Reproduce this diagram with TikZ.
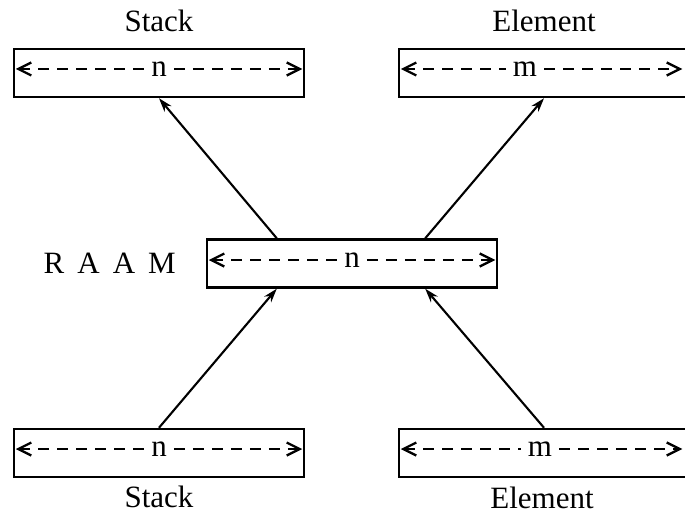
\documentclass[tikz,border=0pt]{standalone}
\usepackage{fontspec}
\setmainfont{Liberation Serif}
\usetikzlibrary{arrows.meta}
\begin{document}
\begin{tikzpicture}[x=1pt,y=-1pt,
  unit/.style={draw,line width=2.5pt,rectangle,minimum width=290pt,minimum height=48pt,inner sep=0pt},
  conn/.style={line width=2.1pt,-{Stealth[length=14pt,width=9pt]}},
  span/.style={line width=2.3pt,dash pattern=on 11pt off 8pt},
  spanl/.style={span,{Straight Barb[length=13pt,width=13pt]}-},
  spanr/.style={span,-{Straight Barb[length=13pt,width=13pt]}},
  dim/.style={font=\fontsize{31}{34}\selectfont,inner xsep=7pt,inner ysep=2pt,fill=white},
  title/.style={font=\fontsize{31}{34}\selectfont,anchor=base,inner sep=0pt}]
\useasboundingbox (0,0) rectangle (685,516);

% layer boxes
\node[unit] (topL) at (159,73) {};
\node[unit] (topR) at (544,73) {};
\node[unit] (mid)  at (352,263.5) {};
\node[unit] (botL) at (159,453) {};
\node[unit] (botR) at (544,453) {};

% width markers inside the boxes
\node[dim] (nTL) at (159,69) {n};
\node[dim] (mTR) at (525,69) {m};
\node[dim] (nM)  at (352,260) {n};
\node[dim] (nBL) at (159,449) {n};
\node[dim] (mBR) at (540,449) {m};

\draw[spanl] ([xshift=3pt]topL.west |- nTL) -- (nTL.west);
\draw[spanr] (nTL.east) -- ([xshift=-3pt]topL.east |- nTL);
\draw[spanl] ([xshift=3pt]topR.west |- mTR) -- (mTR.west);
\draw[spanr] (mTR.east) -- ([xshift=-8pt]topR.east |- mTR);
\draw[spanl] ([xshift=3pt]mid.west |- nM) -- (nM.west);
\draw[spanr] (nM.east) -- ([xshift=-3pt]mid.east |- nM);
\draw[spanl] ([xshift=3pt]botL.west |- nBL) -- (nBL.west);
\draw[spanr] (nBL.east) -- ([xshift=-3pt]botL.east |- nBL);
\draw[spanl] ([xshift=3pt]botR.west |- mBR) -- (mBR.west);
\draw[spanr] (mBR.east) -- ([xshift=-8pt]botR.east |- mBR);

% titles
\node[title] (tTL) at (159,32) {Stack};
\node[title] (tTR) at (544,32) {Element};
\node[title] (tBL) at (159,507) {Stack};
\node[title] (tBR) at (542,508) {Element};
\node[title,anchor=base east] (raam) at (176,273) {R\hspace{0.42em}A\hspace{0.42em}A\hspace{0.42em}M};

% connections
\draw[conn] ([xshift=71pt]mid.north west) -- (topL.south);
\draw[conn] ([xshift=-73pt]mid.north east) -- (topR.south);
\draw[conn] (botL.north) -- ([xshift=71pt]mid.south west);
\draw[conn] (botR.north) -- ([xshift=-73pt]mid.south east);
\end{tikzpicture}
\end{document}
